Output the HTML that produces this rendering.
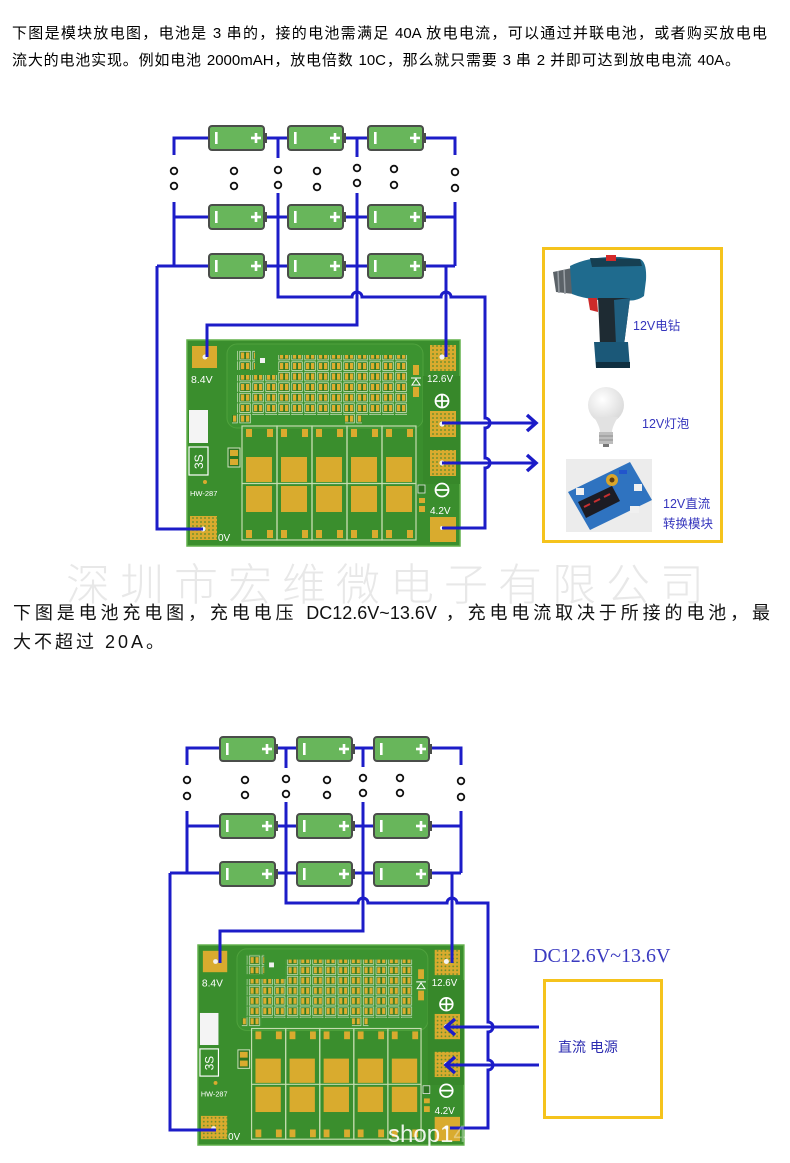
<!DOCTYPE html>
<html><head><meta charset="utf-8">
<style>
html,body{margin:0;padding:0;background:#fff;}
body{width:790px;height:1163px;position:relative;overflow:hidden;}
.t1{position:absolute;font:15px/20px "Liberation Sans","Noto Sans CJK SC",sans-serif;color:#000;text-align:justify;text-align-last:justify;}
.t2{position:absolute;font:18px/24px "Liberation Sans","Noto Sans CJK SC",sans-serif;color:#111;text-align:justify;text-align-last:justify;}
.wm{position:absolute;left:66px;top:556px;font:44px/50px "Noto Sans CJK SC",sans-serif;font-weight:300;letter-spacing:10px;color:#e8e8e8;white-space:nowrap;}
svg{position:absolute;left:0;top:0;}
</style></head><body>

<div class="t1" style="left:12px;top:24px;width:755px">下图是模块放电图，电池是 3 串的，接的电池需满足 40A 放电电流，可以通过并联电池，或者购买放电电</div>
<div class="t1" style="left:12px;top:51px;width:728px">流大的电池实现。例如电池 2000mAH，放电倍数 10C，那么就只需要 3 串 2 并即可达到放电电流 40A。</div>

<div class="wm">深圳市宏维微电子有限公司</div>

<div class="t2" style="left:13px;top:601px;width:757px">下图是电池充电图，充电电压 DC12.6V~13.6V ，充电电流取决于所接的电池，最</div>
<div class="t2" style="left:13px;top:630px;letter-spacing:3px;text-align:left;text-align-last:left">大不超过 20A。</div>

<svg width="790" height="1163" viewBox="0 0 790 1163" xmlns="http://www.w3.org/2000/svg">
<defs>
  <pattern id="via" width="4" height="4" patternUnits="userSpaceOnUse">
    <rect width="4" height="4" fill="#d9ab2e"/>
    <circle cx="2" cy="2" r="0.9" fill="#5a8a2c"/>
  </pattern>
  <pattern id="smd" width="13" height="10.5" patternUnits="userSpaceOnUse">
    <rect x="0.8" y="0.8" width="10.5" height="8.6" fill="#2f7a24" stroke="#cfe3bf" stroke-width="0.8"/>
    <rect x="2" y="2" width="3.2" height="6.2" fill="#dcae2f"/>
    <rect x="7" y="2" width="3.2" height="6.2" fill="#dcae2f"/>
  </pattern>
  <radialGradient id="bulbg" cx="0.4" cy="0.35" r="0.7">
    <stop offset="0" stop-color="#ffffff"/>
    <stop offset="1" stop-color="#d8d8d8"/>
  </radialGradient>
  <g id="bat">
    <rect x="1" y="1" width="55" height="24" rx="3" fill="#68b65b" stroke="#4a4d4a" stroke-width="2"/>
    <rect x="56" y="8" width="3" height="10" fill="#4a4d4a"/>
    <rect x="7" y="7" width="2.6" height="12" fill="#fff"/>
    <rect x="43" y="11.7" width="10" height="2.6" fill="#fff"/>
    <rect x="46.7" y="8" width="2.6" height="10" fill="#fff"/>
  </g>
  <g id="pcb">
    <rect x="0" y="0" width="273" height="206" fill="#3a8e2d" stroke="#62b04c" stroke-width="1.5"/>
    <rect x="40" y="4" width="196" height="84" rx="10" fill="#3c9330" stroke="#4fa23d" stroke-width="1"/>
    <rect x="236" y="36" width="37" height="108" fill="#37882a"/>
    <rect x="5" y="6" width="25" height="22" fill="#d9ab2e"/>
    <circle cx="18" cy="17" r="2.5" fill="#f2f2f2"/>
    <rect x="2" y="70" width="19" height="33" fill="#f4f4f4"/>
    <rect x="2" y="107" width="19" height="28" fill="none" stroke="#fff" stroke-width="1.2"/>
    <circle cx="18" cy="142" r="2" fill="#d9ab2e"/>
    <rect x="3" y="176" width="27" height="24" fill="url(#via)"/>
    <circle cx="16" cy="189" r="2.5" fill="#f2f2f2"/>
    <rect x="41" y="108" width="12" height="19" fill="#2c7422" stroke="#cfe3bf" stroke-width="1"/>
    <rect x="43" y="110" width="8" height="6" fill="#d9ab2e"/>
    <rect x="43" y="119" width="8" height="6" fill="#d9ab2e"/>
    <rect x="50" y="10" width="18" height="20" fill="url(#smd)"/>
    <rect x="50" y="35" width="40" height="40" fill="url(#smd)"/>
    <rect x="90" y="15" width="130" height="60" fill="url(#smd)"/>
    <rect x="45" y="75" width="20" height="9" fill="url(#smd)"/>
    <rect x="158" y="75" width="17" height="9" fill="url(#smd)"/>
    <rect x="73" y="18" width="5" height="5" fill="#f2f2f2"/>
    <rect x="226" y="25" width="6" height="10" fill="#d9ab2e"/>
    <rect x="226" y="47" width="6" height="10" fill="#d9ab2e"/>
    <path d="M224,38 H234 M225,45 L229,39 L233,45 Z" stroke="#fff" stroke-width="1" fill="none"/>
    <rect x="243" y="5" width="26" height="26" fill="url(#via)"/>
    <circle cx="255" cy="17" r="2.6" fill="#f2f2f2"/>
    <circle cx="255" cy="61" r="6.5" fill="none" stroke="#fff" stroke-width="1.8"/>
    <path d="M248.5,61 H261.5 M255,54.5 V67.5" stroke="#fff" stroke-width="1.8"/>
    <rect x="243" y="71" width="26" height="26" fill="url(#via)"/>
    <circle cx="255" cy="84" r="2.6" fill="#f2f2f2"/>
    <rect x="243" y="110" width="26" height="26" fill="url(#via)"/>
    <circle cx="255" cy="123" r="2.6" fill="#f2f2f2"/>
    <circle cx="255" cy="150" r="6.5" fill="none" stroke="#fff" stroke-width="1.8"/>
    <path d="M248.5,150 H261.5" stroke="#fff" stroke-width="1.8"/>
    <rect x="243" y="177" width="26" height="25" fill="#d9ab2e"/>
    <circle cx="255" cy="188" r="2" fill="#f2f2f2"/>
    <rect x="231" y="145" width="7" height="8" fill="#2c7422" stroke="#e8e8e8" stroke-width="0.8"/>
    <rect x="232" y="158" width="6" height="5" fill="#d9ab2e"/>
    <rect x="232" y="166" width="6" height="6" fill="#d9ab2e"/>
    <g fill="#d9ab2e">
      <rect x="59" y="117" width="26" height="25"/><rect x="59" y="146" width="26" height="26"/>
      <rect x="94" y="117" width="26" height="25"/><rect x="94" y="146" width="26" height="26"/>
      <rect x="129" y="117" width="26" height="25"/><rect x="129" y="146" width="26" height="26"/>
      <rect x="164" y="117" width="26" height="25"/><rect x="164" y="146" width="26" height="26"/>
      <rect x="199" y="117" width="26" height="25"/><rect x="199" y="146" width="26" height="26"/>
      <rect x="59" y="89" width="6" height="8"/><rect x="80" y="89" width="6" height="8"/>
      <rect x="94" y="89" width="6" height="8"/><rect x="115" y="89" width="6" height="8"/>
      <rect x="129" y="89" width="6" height="8"/><rect x="150" y="89" width="6" height="8"/>
      <rect x="164" y="89" width="6" height="8"/><rect x="185" y="89" width="6" height="8"/>
      <rect x="199" y="89" width="6" height="8"/><rect x="220" y="89" width="6" height="8"/>
      <rect x="59" y="190" width="6" height="8"/><rect x="80" y="190" width="6" height="8"/>
      <rect x="94" y="190" width="6" height="8"/><rect x="115" y="190" width="6" height="8"/>
      <rect x="129" y="190" width="6" height="8"/><rect x="150" y="190" width="6" height="8"/>
      <rect x="164" y="190" width="6" height="8"/><rect x="185" y="190" width="6" height="8"/>
      <rect x="199" y="190" width="6" height="8"/><rect x="220" y="190" width="6" height="8"/>
    </g>
    <g fill="none" stroke="#c4dcae" stroke-width="1.2">
      <rect x="55" y="86" width="35" height="114"/>
      <rect x="90" y="86" width="35" height="114"/>
      <rect x="125" y="86" width="35" height="114"/>
      <rect x="160" y="86" width="35" height="114"/>
      <rect x="195" y="86" width="34" height="114"/>
      <path d="M55,143.5 H229"/>
    </g>
  </g>
</defs>

<g transform="translate(187,340)">
  <use href="#pcb"/>
  <g font-family="Liberation Sans, sans-serif" fill="#fff">
    <text x="4" y="43" font-size="10.5">8.4V</text>
    <text x="240" y="42" font-size="10">12.6V</text>
    <text x="243" y="174" font-size="10">4.2V</text>
    <text x="31" y="201" font-size="10">0V</text>
    <text x="3" y="156" font-size="7.5">HW-287</text>
    <text x="0" y="0" font-size="12" transform="translate(16,129) rotate(-90)">3S</text>
  </g>
</g>
<g transform="translate(198,945) scale(0.974,0.971)">
  <use href="#pcb"/>
  <g font-family="Liberation Sans, sans-serif" fill="#fff">
    <text x="4" y="43" font-size="10.5">8.4V</text>
    <text x="240" y="42" font-size="10">12.6V</text>
    <text x="243" y="174" font-size="10">4.2V</text>
    <text x="31" y="201" font-size="10">0V</text>
    <text x="3" y="156" font-size="7.5">HW-287</text>
    <text x="0" y="0" font-size="12" transform="translate(16,129) rotate(-90)">3S</text>
  </g>
</g>

<g stroke="#1c1cc8" stroke-width="3" fill="none">
  <path d="M174,155 V138 H455 V155"/>
  <path d="M278,138 V158 M357,138 V157"/>
  <path d="M174,202 V266 M455,202 V266 M174,217 H455"/>
  <path d="M278,193 V297 H352 a5,5 0 0 1 10,0 H441 a5,5 0 0 1 10,0 H485 V418 a5,5 0 0 1 0,10 V458 a5,5 0 0 1 0,10 V528 H442"/>
  <path d="M357,193 V325 H207 V357"/>
  <path d="M157,266 H455 M157,266 V529 H203"/>
  <path d="M446,266 V357"/>
  <path d="M442,423 H536 M442,463 H536"/>
  <path d="M527,415 L536,423 L527,431 M527,455 L536,463 L527,471" stroke-width="3.5"/>
</g>

<g stroke="#1c1cc8" stroke-width="3" fill="none">
  <path d="M187,765 V748 H461 V765"/>
  <path d="M286,748 V768 M363,748 V767"/>
  <path d="M187,811 V873 M461,811 V873 M187,826 H461"/>
  <path d="M286,802 V903 H358 a5,5 0 0 1 10,0 H447 a5,5 0 0 1 10,0 H488 V1022 a5,5 0 0 1 0,10 V1060 a5,5 0 0 1 0,10 V1128 H450"/>
  <path d="M363,802 V931 H220 V963"/>
  <path d="M170,873 H461 M170,873 V1130 H216"/>
  <path d="M452,873 V963"/>
  <path d="M539,1027 H447 M539,1065 H447"/>
  <path d="M455,1019 L446,1027 L455,1035 M455,1057 L446,1065 L455,1073" stroke-width="3.5"/>
</g>

<use href="#bat" x="208" y="125"/><use href="#bat" x="287" y="125"/><use href="#bat" x="367" y="125"/>
<use href="#bat" x="208" y="204"/><use href="#bat" x="287" y="204"/><use href="#bat" x="367" y="204"/>
<use href="#bat" x="208" y="253"/><use href="#bat" x="287" y="253"/><use href="#bat" x="367" y="253"/>
<use href="#bat" x="219" y="736"/><use href="#bat" x="296" y="736"/><use href="#bat" x="373" y="736"/>
<use href="#bat" x="219" y="813"/><use href="#bat" x="296" y="813"/><use href="#bat" x="373" y="813"/>
<use href="#bat" x="219" y="861"/><use href="#bat" x="296" y="861"/><use href="#bat" x="373" y="861"/>

<g fill="#fff" stroke="#111" stroke-width="1.8">
  <circle cx="174" cy="171" r="3.3"/><circle cx="174" cy="186" r="3.3"/>
  <circle cx="234" cy="171" r="3.3"/><circle cx="234" cy="186" r="3.3"/>
  <circle cx="278" cy="170" r="3.3"/><circle cx="278" cy="185" r="3.3"/>
  <circle cx="317" cy="171" r="3.3"/><circle cx="317" cy="187" r="3.3"/>
  <circle cx="357" cy="168" r="3.3"/><circle cx="357" cy="183" r="3.3"/>
  <circle cx="394" cy="169" r="3.3"/><circle cx="394" cy="185" r="3.3"/>
  <circle cx="455" cy="172" r="3.3"/><circle cx="455" cy="188" r="3.3"/>
  <circle cx="187" cy="780" r="3.3"/><circle cx="187" cy="796" r="3.3"/>
  <circle cx="245" cy="780" r="3.3"/><circle cx="245" cy="795" r="3.3"/>
  <circle cx="286" cy="779" r="3.3"/><circle cx="286" cy="794" r="3.3"/>
  <circle cx="327" cy="780" r="3.3"/><circle cx="327" cy="795" r="3.3"/>
  <circle cx="363" cy="778" r="3.3"/><circle cx="363" cy="793" r="3.3"/>
  <circle cx="400" cy="778" r="3.3"/><circle cx="400" cy="793" r="3.3"/>
  <circle cx="461" cy="781" r="3.3"/><circle cx="461" cy="797" r="3.3"/>
</g>

<text x="388" y="1142" font-family="Liberation Sans, sans-serif" font-size="24" fill="#fff" fill-opacity="0.9">shop1<tspan fill-opacity="0.35">4</tspan></text>

<rect x="543.5" y="248.5" width="178" height="293" fill="none" stroke="#f5c31c" stroke-width="3"/>

<g>
  <path d="M553,272 L572,268 L574,294 L556,292 Z" fill="#5b6268"/>
  <path d="M558,271 L559,293 M564,270 L565,294" stroke="#9aa0a6" stroke-width="1.5"/>
  <path d="M570,266 Q590,256 620,257 L640,259 Q647,262 646,280 L644,296 Q636,302 625,300 L598,300 Q582,298 572,294 Z" fill="#1f6b8e"/>
  <path d="M590,258 L640,259 L642,266 L592,267 Z" fill="#163f52"/>
  <rect x="606" y="255" width="10" height="6" fill="#d42a2a"/>
  <path d="M588,298 L597,298 L598,312 L590,310 Z" fill="#cc2a2a"/>
  <path d="M598,298 L630,298 L624,345 L600,345 Z" fill="#1e2b33"/>
  <path d="M614,300 L630,298 L624,345 L616,345 Z" fill="#205f80"/>
  <path d="M594,342 L628,342 L630,368 L596,368 Z" fill="#1b5878"/>
  <rect x="596" y="362" width="34" height="6" fill="#0f2f40"/>
</g>
<g>
  <circle cx="606" cy="405" r="18" fill="url(#bulbg)"/>
  <path d="M594,417 Q600,427 600,432 L612,432 Q612,427 618,417 Z" fill="#e2e2e2"/>
  <rect x="599" y="432" width="14" height="12" fill="#bdbdbd"/>
  <path d="M599,436 H613 M599,440 H613" stroke="#8e8e8e" stroke-width="1"/>
  <rect x="603" y="444" width="6" height="3" fill="#777"/>
</g>
<g>
  <rect x="566" y="459" width="86" height="73" fill="#ececec"/>
  <path d="M568,492 L630,462 L652,500 L590,530 Z" fill="#2f73c0"/>
  <path d="M578,502 L612,486 L620,501 L586,518 Z" fill="#1c1c24"/>
  <path d="M584,507 L590,504 M594,502 L600,499 M604,497 L610,494" stroke="#c83030" stroke-width="2"/>
  <circle cx="612" cy="480" r="6" fill="#d9a52a"/>
  <circle cx="612" cy="480" r="2.5" fill="#5a3a10"/>
  <rect x="576" y="488" width="8" height="7" fill="#f0f0f0"/>
  <rect x="634" y="484" width="8" height="7" fill="#f0f0f0"/>
  <rect x="630" y="506" width="9" height="7" fill="#f0f0f0"/>
  <rect x="619" y="470" width="8" height="4" fill="#2255cc"/>
</g>
<g font-family="Liberation Sans, Noto Sans CJK SC, sans-serif" font-size="12.5" fill="#3535bd">
  <text x="633" y="330">12V电钻</text>
  <text x="642" y="428">12V灯泡</text>
  <text x="663" y="508">12V直流</text>
  <text x="663" y="528">转换模块</text>
</g>

<text x="533" y="962" font-family="Liberation Serif, serif" font-size="20" fill="#3a3ac0">DC12.6V~13.6V</text>
<rect x="544.5" y="980.5" width="117" height="137" fill="none" stroke="#f5c31c" stroke-width="3"/>
<text x="558" y="1052" font-family="Liberation Sans, Noto Sans CJK SC, sans-serif" font-size="14" fill="#2b2bb0">直流 电源</text>
</svg>
</body></html>
